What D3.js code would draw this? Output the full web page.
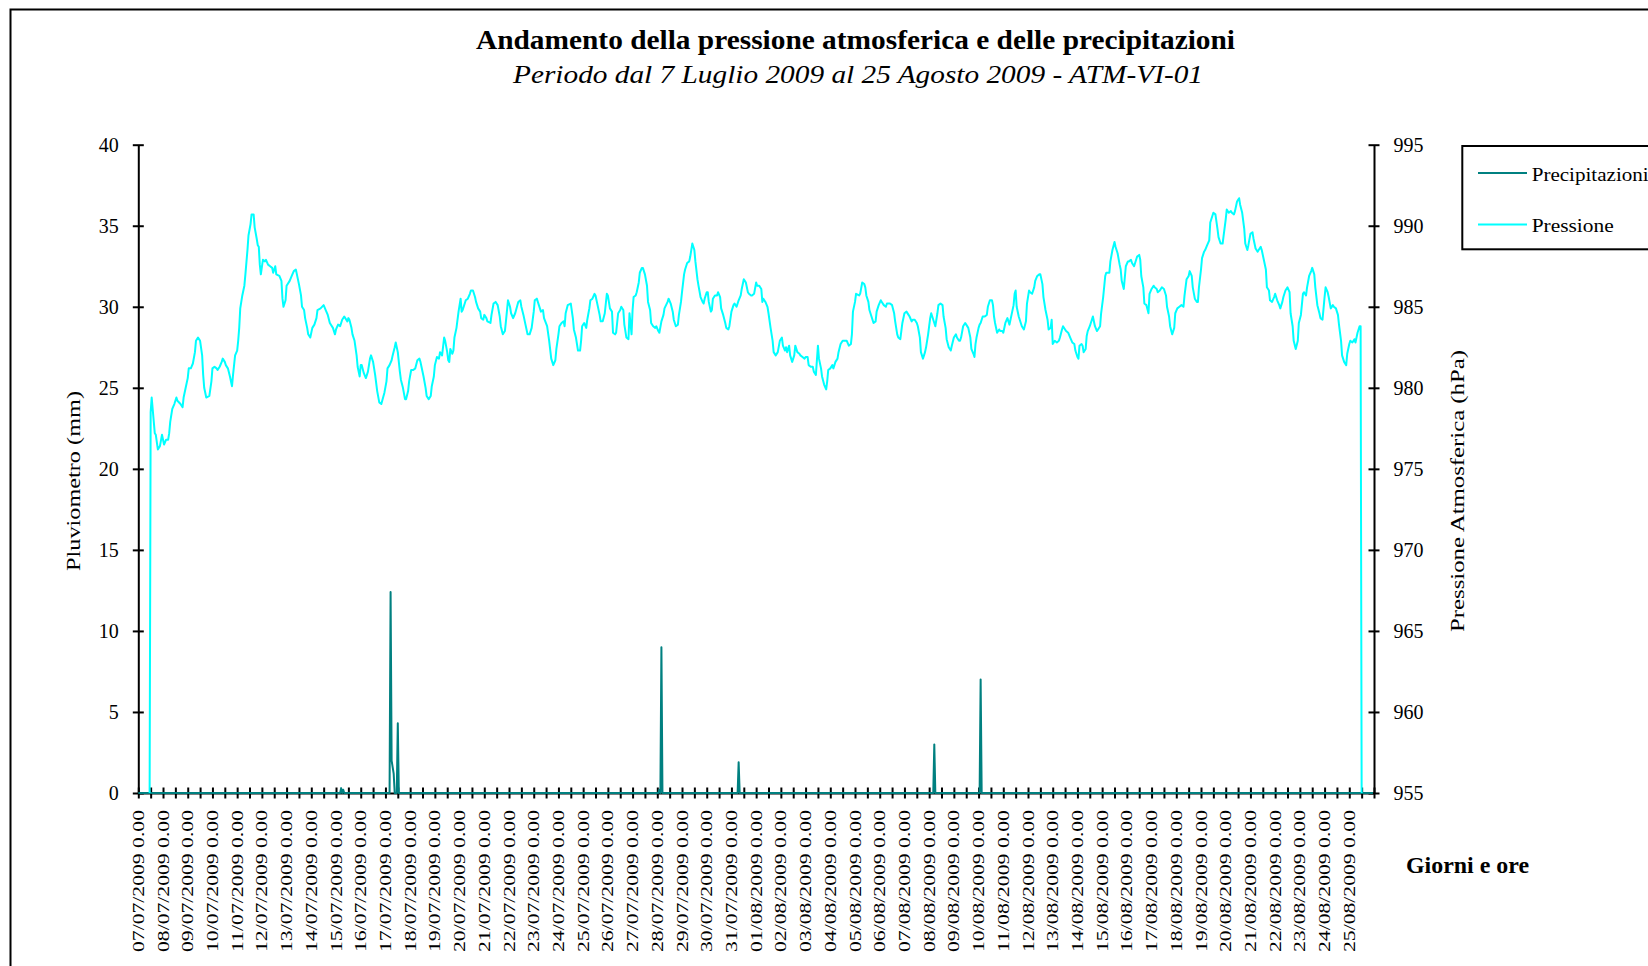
<!DOCTYPE html>
<html>
<head>
<meta charset="utf-8">
<script src="https://cdn.jsdelivr.net/npm/d3@7"></script>
<style>
    body { margin: 0; background: #fff; }
    svg { display: block; font-family: "Liberation Serif", "Times New Roman", serif; }
</style>
</head>
<body>
<svg id="chart" width="1648" height="966"></svg>
<script>
// chart texts
var title = 'Andamento della pressione atmosferica e delle precipitazioni',
    subtitle = 'Periodo dal 7 Luglio 2009 al 25 Agosto 2009 - ATM-VI-01',
    rainTitle = 'Pluviometro (mm)',
    pressTitle = 'Pressione Atmosferica (hPa)',
    xTitle = 'Giorni e ore',
    seriesNames = ['Precipitazioni', 'Pressione'];

// axis ticks
var rainTicks = [0, 5, 10, 15, 20, 25, 30, 35, 40],
    pressTicks = [955, 960, 965, 970, 975, 980, 985, 990, 995];

// one label per day, hours counted from 07/07/2009 0.00
var dayLabels = [
    '07/07/2009 0.00', '08/07/2009 0.00', '09/07/2009 0.00', '10/07/2009 0.00', '11/07/2009 0.00',
    '12/07/2009 0.00', '13/07/2009 0.00', '14/07/2009 0.00', '15/07/2009 0.00', '16/07/2009 0.00',
    '17/07/2009 0.00', '18/07/2009 0.00', '19/07/2009 0.00', '20/07/2009 0.00', '21/07/2009 0.00',
    '22/07/2009 0.00', '23/07/2009 0.00', '24/07/2009 0.00', '25/07/2009 0.00', '26/07/2009 0.00',
    '27/07/2009 0.00', '28/07/2009 0.00', '29/07/2009 0.00', '30/07/2009 0.00', '31/07/2009 0.00',
    '01/08/2009 0.00', '02/08/2009 0.00', '03/08/2009 0.00', '04/08/2009 0.00', '05/08/2009 0.00',
    '06/08/2009 0.00', '07/08/2009 0.00', '08/08/2009 0.00', '09/08/2009 0.00', '10/08/2009 0.00',
    '11/08/2009 0.00', '12/08/2009 0.00', '13/08/2009 0.00', '14/08/2009 0.00', '15/08/2009 0.00',
    '16/08/2009 0.00', '17/08/2009 0.00', '18/08/2009 0.00', '19/08/2009 0.00', '20/08/2009 0.00',
    '21/08/2009 0.00', '22/08/2009 0.00', '23/08/2009 0.00', '24/08/2009 0.00', '25/08/2009 0.00'
];
var totalHours = 1200;

// precipitation [hour, mm]
var rain = [
    [0,0],[196,0],[197,0.3],[198,0],[199,0.2],[200,0],[244,0],[245,12.4],[246,2.0],[247,1.6],[248,1.2],
    [249,0],[251,0],[252,4.3],[253,0],[505,0],[506,0.2],[507,0],[508,9.0],[509,0],[582,0],[583,1.9],
    [584,0],[772,0],[773,3.0],[774,0],[817,0],[818,7.0],[819,0],[1199,0]
];

// pressure [hour, hPa]
var pressure = [
    [11,0],[12,978.5],[13,979.4],[16,977.2],[17,977.1],[19,976.2],[21,976.4],[23,977.1],[25,976.5],[27,976.8],
    [29,976.8],[30,977.2],[31,977.9],[33,978.7],[35,979.0],[37,979.4],[38,979.2],[41,979.0],[43,978.8],[44,979.4],
    [46,980.0],[48,980.6],[49,981.2],[51,981.2],[53,981.5],[55,982.2],[56,982.9],[58,983.1],[60,982.9],[62,982.0],
    [63,980.8],[64,980.0],[66,979.4],[69,979.5],[71,980.4],[72,981.2],[74,981.3],[76,981.2],[77,981.1],[79,981.3],
    [81,981.6],[82,981.8],[84,981.6],[85,981.4],[87,981.2],[89,980.7],[91,980.1],[92,980.8],[94,982.0],[96,982.3],
    [97,982.9],[98,983.7],[99,984.9],[101,985.7],[103,986.3],[104,987.0],[106,988.5],[107,989.4],[109,990.1],[110,990.7],
    [112,990.7],[113,989.9],[115,989.2],[116,988.8],[117,988.7],[118,987.6],[119,987.0],[121,987.9],[123,987.8],[124,987.9],
    [126,987.6],[128,987.5],[130,987.4],[131,987.1],[133,987.5],[134,987.0],[137,986.9],[139,986.6],[140,985.5],[141,985.0],
    [143,985.4],[144,986.3],[147,986.6],[149,986.9],[151,987.2],[153,987.3],[154,987.0],[156,986.4],[158,985.7],[159,985.0],
    [161,984.8],[162,984.3],[164,983.7],[165,983.3],[167,983.1],[169,983.7],[171,983.9],[173,984.3],[174,984.8],[177,984.9],
    [180,985.1],[182,984.8],[184,984.5],[186,984.0],[189,983.7],[191,983.3],[192,983.6],[194,983.9],[196,983.8],[198,984.2],
    [200,984.4],[203,984.1],[204,984.3],[205,984.2],[207,983.7],[208,983.3],[210,982.9],[212,982.0],[213,981.3],[215,980.7],
    [216,981.4],[217,981.4],[219,980.9],[221,980.6],[223,981.0],[225,981.8],[226,982.0],[228,981.6],[230,980.8],[232,979.8],
    [234,979.1],[236,979.0],[239,979.7],[241,980.4],[242,981.2],[244,981.4],[246,981.7],[247,982.0],[249,982.5],[250,982.8],
    [252,982.2],[254,981.0],[255,980.5],[257,980.0],[259,979.3],[260,979.3],[262,979.8],[263,980.4],[265,981.1],[267,981.1],
    [269,981.2],[271,981.7],[273,981.8],[274,981.6],[275,981.3],[277,980.7],[279,980.0],[280,979.5],[282,979.3],[284,979.5],
    [285,980.1],[287,980.7],[288,981.4],[290,981.9],[292,981.8],[293,982.2],[295,982.0],[297,983.1],[298,982.9],[300,982.2],
    [301,981.7],[302,981.6],[303,982.4],[305,982.1],[306,982.3],[307,983.1],[309,983.7],[310,984.2],[311,984.7],[313,985.5],
    [314,984.7],[315,984.8],[317,985.2],[318,985.4],[320,985.5],[322,985.8],[323,986.0],[325,986.0],[327,985.6],[328,985.3],
    [330,984.9],[332,984.7],[333,984.3],[335,984.2],[336,984.5],[338,984.3],[339,984.1],[342,984.0],[343,984.5],[345,985.2],
    [347,985.3],[349,985.1],[351,984.4],[352,983.8],[354,983.3],[356,983.5],[357,984.1],[359,985.4],[361,985.0],[362,984.6],
    [364,984.3],[366,984.6],[369,985.3],[371,985.4],[372,985.0],[374,984.5],[376,983.9],[378,983.3],[380,983.3],[382,983.7],
    [384,984.7],[385,985.4],[387,985.5],[389,985.1],[391,984.7],[393,984.8],[394,984.3],[397,983.8],[399,982.9],[401,981.8],
    [403,981.4],[405,981.7],[406,982.4],[408,983.3],[409,983.8],[411,984.0],[413,984.1],[414,983.8],[415,984.6],[417,985.1],
    [420,985.2],[422,984.3],[423,983.6],[425,983.1],[427,982.3],[429,982.3],[430,982.9],[431,983.8],[433,984.0],[435,983.7],
    [436,984.2],[438,984.9],[439,985.4],[441,985.5],[443,985.8],[444,985.7],[446,985.1],[448,984.5],[449,984.1],[451,984.1],
    [453,984.6],[455,985.8],[456,985.7],[458,984.9],[460,984.7],[461,983.4],[463,983.3],[464,983.4],[466,984.6],[468,984.8],
    [469,985.0],[471,984.8],[472,983.9],[474,983.1],[476,983.0],[477,984.6],[479,983.3],[480,984.8],[481,985.6],[483,985.7],
    [484,985.9],[486,986.5],[487,987.1],[489,987.4],[490,987.4],[492,987.0],[494,986.3],[495,985.3],[497,984.8],[498,984.0],
    [500,983.8],[502,983.7],[503,983.8],[505,983.5],[506,983.4],[508,984.1],[510,984.5],[511,984.9],[514,985.3],[515,985.5],
    [517,985.2],[519,984.7],[520,984.2],[522,983.8],[524,983.9],[525,984.5],[527,985.3],[528,985.9],[530,987.0],[531,987.3],
    [533,987.7],[535,987.8],[536,988.1],[537,988.5],[538,988.9],[540,988.5],[541,987.8],[543,986.7],[544,986.3],[546,985.6],
    [548,985.3],[549,985.2],[550,985.5],[552,985.9],[553,985.9],[554,985.3],[556,984.7],[557,984.8],[558,985.5],[560,985.7],
    [562,985.7],[563,985.9],[565,985.6],[566,984.9],[568,984.5],[570,984.0],[571,983.7],[573,983.6],[574,983.8],[576,984.7],
    [578,985.1],[579,985.2],[581,985.0],[583,985.4],[585,985.7],[586,986.1],[588,986.7],[590,986.5],[592,985.9],[593,985.8],
    [595,985.7],[596,985.7],[598,985.8],[600,986.5],[601,986.3],[603,986.3],[605,986.1],[606,985.3],[607,985.5],[609,985.3],
    [611,985.0],[612,984.6],[614,983.7],[616,982.9],[617,982.2],[619,982.0],[621,982.2],[623,982.9],[625,983.1],[626,982.6],
    [628,982.3],[629,982.5],[630,982.2],[632,982.6],[633,982.0],[635,981.6],[637,982.0],[638,982.6],[640,982.2],[642,982.1],
    [643,982.0],[645,981.9],[647,981.8],[648,981.9],[650,981.9],[651,981.4],[653,981.3],[655,981.3],[656,981.0],[658,980.8],
    [660,982.6],[661,981.8],[663,981.2],[664,980.7],[666,980.2],[668,979.9],[669,980.4],[670,981.1],[672,981.2],[674,981.4],
    [675,981.2],[677,981.6],[679,981.8],[680,982.2],[682,982.7],[684,982.9],[686,982.9],[688,982.9],[690,982.6],[692,982.7],
    [693,983.3],[694,984.7],[696,985.3],[697,985.8],[700,985.7],[701,985.8],[703,986.5],[705,986.4],[706,986.2],[707,985.7],
    [709,985.3],[710,984.8],[712,984.4],[714,984.0],[716,984.1],[717,984.7],[719,985.1],[721,985.4],[722,985.3],[724,985.1],
    [726,985.0],[727,985.2],[730,985.2],[732,985.1],[734,984.6],[735,984.1],[737,983.3],[738,983.1],[740,983.0],[742,984.0],
    [744,984.6],[746,984.7],[748,984.5],[749,984.4],[751,984.1],[752,984.2],[754,984.2],[756,984.0],[757,983.8],[759,983.1],
    [760,982.2],[762,981.8],[764,982.2],[765,982.5],[767,983.3],[769,984.3],[770,984.6],[771,984.4],[773,984.0],[774,983.8],
    [776,984.6],[777,985.1],[779,985.2],[781,985.1],[782,984.4],[784,983.7],[785,983.0],[787,982.5],[789,982.3],[790,982.6],
    [792,983.1],[794,983.3],[795,983.1],[797,982.9],[798,982.9],[799,983.1],[801,983.8],[803,984.0],[804,983.9],[806,983.7],
    [808,983.1],[809,982.4],[811,982.1],[812,981.9],[813,982.7],[814,983.1],[816,983.7],[817,983.9],[818,984.0],[819,984.2],
    [820,984.4],[822,984.4],[824,984.5],[825,985.0],[827,985.4],[829,985.4],[830,985.1],[831,984.4],[832,984.0],[834,983.4],
    [836,983.6],[837,983.5],[839,983.5],[840,983.4],[842,984.0],[844,984.3],[845,984.1],[846,983.9],[848,984.5],[850,985.1],
    [851,985.8],[852,986.0],[853,985.0],[855,984.4],[857,984.0],[858,983.8],[860,983.6],[862,984.1],[863,985.2],[865,986.0],
    [866,985.9],[868,985.8],[870,986.2],[871,986.6],[873,986.9],[875,987.0],[876,987.0],[878,986.4],[879,985.6],[881,984.8],
    [883,984.2],[884,983.6],[886,983.7],[887,984.2],[888,982.7],[890,982.9],[892,982.8],[894,982.9],[895,983.1],[897,983.6],
    [898,983.8],[900,983.6],[901,983.5],[903,983.4],[905,983.1],[907,982.8],[909,982.7],[910,982.3],[912,981.9],[913,981.8],
    [914,982.6],[916,982.7],[917,982.6],[918,982.2],[920,982.4],[921,983.2],[922,983.5],[924,983.8],[926,984.2],[927,984.4],
    [929,983.8],[931,983.5],[932,983.6],[934,983.8],[935,984.6],[937,985.6],[939,986.9],[940,987.1],[943,987.1],[944,987.8],
    [946,988.5],[948,989.0],[949,988.7],[951,988.3],[953,987.6],[954,987.3],[955,986.6],[957,986.1],[958,986.8],[959,987.5],
    [961,987.8],[962,987.8],[964,987.9],[965,987.7],[967,987.5],[968,987.7],[970,988.1],[972,988.2],[973,987.9],[974,986.9],
    [976,986.2],[977,985.2],[979,985.1],[981,984.6],[982,985.8],[984,986.1],[986,986.3],[987,986.2],[989,986.1],[990,985.9],
    [992,986.0],[994,986.2],[996,986.1],[998,985.7],[999,985.0],[1001,984.4],[1002,983.8],[1004,983.3],[1006,983.7],[1007,984.6],
    [1009,984.9],[1011,985.0],[1013,985.1],[1015,985.0],[1016,985.7],[1018,986.7],[1020,986.9],[1021,987.2],[1023,986.9],[1024,986.2],
    [1026,985.5],[1028,985.3],[1029,985.3],[1030,986.2],[1032,987.3],[1033,988.0],[1035,988.4],[1036,988.5],[1038,988.8],[1040,989.1],
    [1041,990.2],[1043,990.6],[1044,990.8],[1046,990.7],[1048,989.8],[1049,989.3],[1051,988.9],[1053,988.9],[1054,989.4],[1056,990.4],
    [1057,991.0],[1059,990.8],[1061,990.9],[1062,990.8],[1064,990.7],[1065,990.9],[1067,991.5],[1069,991.7],[1070,991.3],[1072,990.8],
    [1074,989.8],[1075,988.9],[1077,988.5],[1078,988.8],[1080,989.5],[1082,989.6],[1083,989.2],[1085,988.6],[1087,988.4],[1088,988.5],
    [1090,988.7],[1091,988.5],[1093,987.9],[1095,987.3],[1096,986.2],[1098,986.0],[1099,985.4],[1101,985.3],[1103,985.6],[1104,985.8],
    [1106,985.4],[1108,985.1],[1109,984.9],[1111,985.3],[1112,985.6],[1114,986.0],[1116,986.2],[1118,985.9],[1119,984.6],[1121,983.8],
    [1122,982.9],[1124,982.4],[1126,982.9],[1127,984.0],[1129,984.5],[1131,985.8],[1132,985.9],[1134,985.7],[1135,986.2],[1137,986.9],
    [1139,987.2],[1140,987.4],[1142,987.0],[1143,986.2],[1145,985.1],[1147,984.6],[1148,984.3],[1150,984.2],[1152,985.6],[1153,986.2],
    [1155,985.9],[1156,985.6],[1158,984.9],[1160,985.1],[1161,985.0],[1163,984.9],[1165,984.5],[1166,983.9],[1168,982.9],[1169,982.0],
    [1171,981.6],[1173,981.4],[1174,982.1],[1176,982.7],[1177,982.9],[1179,982.8],[1181,983.0],[1182,982.8],[1184,983.4],[1186,983.8],
    [1187,983.8],[1188,0]
];

// colours
var rainColor = '#008080',
    pressColor = '#00ffff';

// plot area
var plot = {left: 138.3, right: 1374, top: 144.7, bottom: 793};

var svg = d3.select('#chart');

// scales
var x = d3.scaleLinear().domain([0, totalHours]).range([plot.left, plot.right]),
    yRain = d3.scaleLinear().domain([0, 40]).range([plot.bottom, plot.top]),
    yPress = d3.scaleLinear().domain([955, 995]).range([plot.bottom, plot.top]).clamp(true);

// outer frame
svg.append('rect')
    .attr('x', 10.5).attr('y', 9.5)
    .attr('width', 1700).attr('height', 1000)
    .attr('fill', 'none').attr('stroke', '#000').attr('stroke-width', 2);

// titles
svg.append('text')
    .attr('x', 855.5).attr('y', 48.5)
    .attr('text-anchor', 'middle')
    .attr('font-size', 27).attr('font-weight', 'bold')
    .attr('textLength', 759).attr('lengthAdjust', 'spacingAndGlyphs')
    .text(title);
svg.append('text')
    .attr('x', 858).attr('y', 83)
    .attr('text-anchor', 'middle')
    .attr('font-size', 26).attr('font-style', 'italic')
    .attr('textLength', 690).attr('lengthAdjust', 'spacingAndGlyphs')
    .text(subtitle);

// style an axis group the same way as the others
function styleAxis(g) {
    g.attr('font-family', null).attr('font-size', 20);
    g.select('.domain').attr('stroke-width', 2);
    g.selectAll('.tick line').attr('stroke-width', 2);
}

// x axis, tick every 12 hours crossing the line
var xAxis = svg.append('g')
    .attr('transform', 'translate(0,' + plot.bottom + ')')
    .call(d3.axisBottom(x)
        .tickValues(d3.range(0, totalHours + 1, 12))
        .tickSize(5.5).tickSizeOuter(0)
        .tickFormat(''));
styleAxis(xAxis);
xAxis.selectAll('.tick line').attr('y1', -5.5).attr('y2', 5.5);

// day labels
svg.append('g')
    .selectAll('text')
    .data(dayLabels)
    .enter()
    .append('text')
    .attr('transform', function (d, i) {
        return 'translate(' + x(i * 24) + ',810) rotate(-90)';
    })
    .attr('text-anchor', 'end')
    .attr('dy', '0.35em')
    .attr('font-size', 16)
    .attr('textLength', 142).attr('lengthAdjust', 'spacingAndGlyphs')
    .text(function (d) { return d; });

// left axis (rain)
var leftAxis = svg.append('g')
    .attr('transform', 'translate(' + plot.left + ',0)')
    .call(d3.axisLeft(yRain).tickValues(rainTicks).tickSize(5.5).tickSizeOuter(0).tickPadding(14));
styleAxis(leftAxis);
leftAxis.selectAll('.tick line').attr('x1', -5.5).attr('x2', 5.5);

// right axis (pressure)
var rightAxis = svg.append('g')
    .attr('transform', 'translate(' + plot.right + ',0)')
    .call(d3.axisRight(yPress).tickValues(pressTicks).tickSize(5.5).tickSizeOuter(0).tickPadding(14));
styleAxis(rightAxis);
rightAxis.selectAll('.tick line').attr('x1', -5.5).attr('x2', 5.5);

// axis titles
svg.append('text')
    .attr('transform', 'translate(73.6,481) rotate(-90)')
    .attr('text-anchor', 'middle').attr('dy', '0.35em')
    .attr('font-size', 19)
    .attr('textLength', 180).attr('lengthAdjust', 'spacingAndGlyphs')
    .text(rainTitle);
svg.append('text')
    .attr('transform', 'translate(1457,491) rotate(-90)')
    .attr('text-anchor', 'middle').attr('dy', '0.35em')
    .attr('font-size', 19)
    .attr('textLength', 282).attr('lengthAdjust', 'spacingAndGlyphs')
    .text(pressTitle);
svg.append('text')
    .attr('x', 1467.5).attr('y', 873)
    .attr('text-anchor', 'middle')
    .attr('font-size', 24).attr('font-weight', 'bold')
    .attr('textLength', 123).attr('lengthAdjust', 'spacingAndGlyphs')
    .text(xTitle);

// series
var rainLine = d3.line()
    .x(function (d) { return x(d[0]); })
    .y(function (d) { return yRain(d[1]); });
var pressLine = d3.line()
    .x(function (d) { return x(d[0]); })
    .y(function (d) { return yPress(d[1]); });

svg.append('path')
    .datum(rain)
    .attr('d', rainLine)
    .attr('fill', 'none').attr('stroke', rainColor)
    .attr('stroke-width', 2).attr('stroke-linejoin', 'round');
svg.append('path')
    .datum(pressure)
    .attr('d', pressLine)
    .attr('fill', 'none').attr('stroke', pressColor)
    .attr('stroke-width', 2).attr('stroke-linejoin', 'round');

// legend
var legend = svg.append('g').attr('transform', 'translate(1462.3,146)');
legend.append('rect')
    .attr('width', 260).attr('height', 103.3)
    .attr('fill', '#fff').attr('stroke', '#000').attr('stroke-width', 2);
var legendRows = legend.selectAll('.row')
    .data(seriesNames)
    .enter()
    .append('g')
    .attr('class', 'row')
    .attr('transform', function (d, i) { return 'translate(0,' + (28.5 + i * 51.5) + ')'; });
legendRows.append('line')
    .attr('x1', 15.7).attr('x2', 64.7)
    .attr('y1', -1.5).attr('y2', -1.5)
    .attr('stroke', function (d, i) { return i ? pressColor : rainColor; })
    .attr('stroke-width', 2);
legendRows.append('text')
    .attr('x', 69.4).attr('dy', '0.32em')
    .attr('font-size', 19)
    .attr('textLength', function (d, i) { return i ? 82 : 117; })
    .attr('lengthAdjust', 'spacingAndGlyphs')
    .text(function (d) { return d; });
</script>
</body>
</html>
